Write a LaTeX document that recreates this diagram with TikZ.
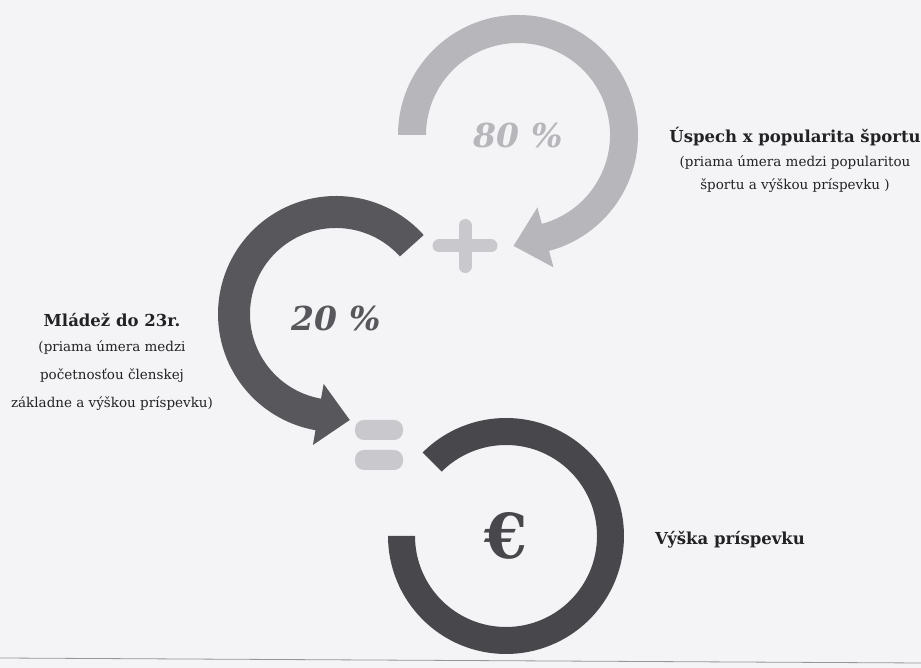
\documentclass[tikz,border=0pt]{standalone}
\usepackage{fontspec}
\setmainfont{DejaVu Serif}
\usetikzlibrary{positioning}
\definecolor{paper}{RGB}{244,244,246}
\definecolor{ink}{RGB}{34,34,36}
\definecolor{lightring}{RGB}{182,182,187}
\definecolor{darkring}{RGB}{88,88,92}
\definecolor{euroring}{RGB}{72,72,76}
\definecolor{signgray}{RGB}{200,200,205}
\definecolor{rulegray}{RGB}{150,150,152}

\begin{document}
\begin{tikzpicture}[x=1pt,y=1pt,inner sep=0pt,node distance=28pt]
\tikzstyle{head}=[font=\fontsize{16.5}{19}\selectfont\bfseries,text=ink]
\tikzstyle{note}=[font=\fontsize{13.5}{16}\selectfont,text=ink]
\tikzstyle{share}=[font=\fontsize{33}{36}\selectfont\bfseries\itshape]
\useasboundingbox (0,0) rectangle (921,668);
\fill[paper] (0,0) rectangle (921,668);
\coordinate (c80) at (518,533);
\coordinate (c20) at (336,354);
\coordinate (ceur) at (506,132);
\fill[lightring,shift={(c80)}] (180:120) arc[start angle=180,end angle=-75,radius=120]
   -- (-75:137) -- (-92.3:111) -- (-75:75) -- (-75:92)
   arc[start angle=-75,end angle=180,radius=92] -- cycle;
\fill[darkring,shift={(c20)}] (42:118) arc[start angle=42,end angle=260,radius=118]
   -- (260:133) -- (277.4:106.9) -- (260:71) -- (260:86)
   arc[start angle=260,end angle=42,radius=86] -- cycle;
\fill[euroring,shift={(ceur)}] (135:118) arc[start angle=135,end angle=-180,radius=118]
   -- (180:91) arc[start angle=180,end angle=495,radius=91] -- cycle;
\draw[signgray,line width=13pt,line cap=round] (439,422) -- (491,422) (465,442.5) -- (465,401.5);
\fill[signgray,rounded corners=9pt] (355,228) rectangle (403,248) (355,198) rectangle (403,218);
\node[share,text=lightring] (p80) at (c80) {80 \%};
\node[share,text=darkring] (p20) at (336,350) {20 \%};
\node[font=\fontsize{62}{62}\selectfont\bfseries,text=euroring] (eur) at (ceur) {€};
\node[head] (uspech) at (795,531) {Úspech x popularita športu};
\node[note,below of=uspech,node distance=26pt] (uspech1) {(priama úmera medzi popularitou};
\node[note,below of=uspech1,node distance=23pt] (uspech2) {športu a výškou príspevku )};
\node[head] (mladez) at (112,348) {Mládež do 23r.};
\node[note,below of=mladez] (mladez1) {(priama úmera medzi};
\node[note,below of=mladez1] (mladez2) {početnosťou členskej};
\node[note,below of=mladez2] (mladez3) {základne a výškou príspevku)};
\node[head,anchor=west] (vyska) at (655,128) {Výška príspevku};
\draw[rulegray,line width=0.8pt] (0,10) -- (921,5);
\end{tikzpicture}
\end{document}
